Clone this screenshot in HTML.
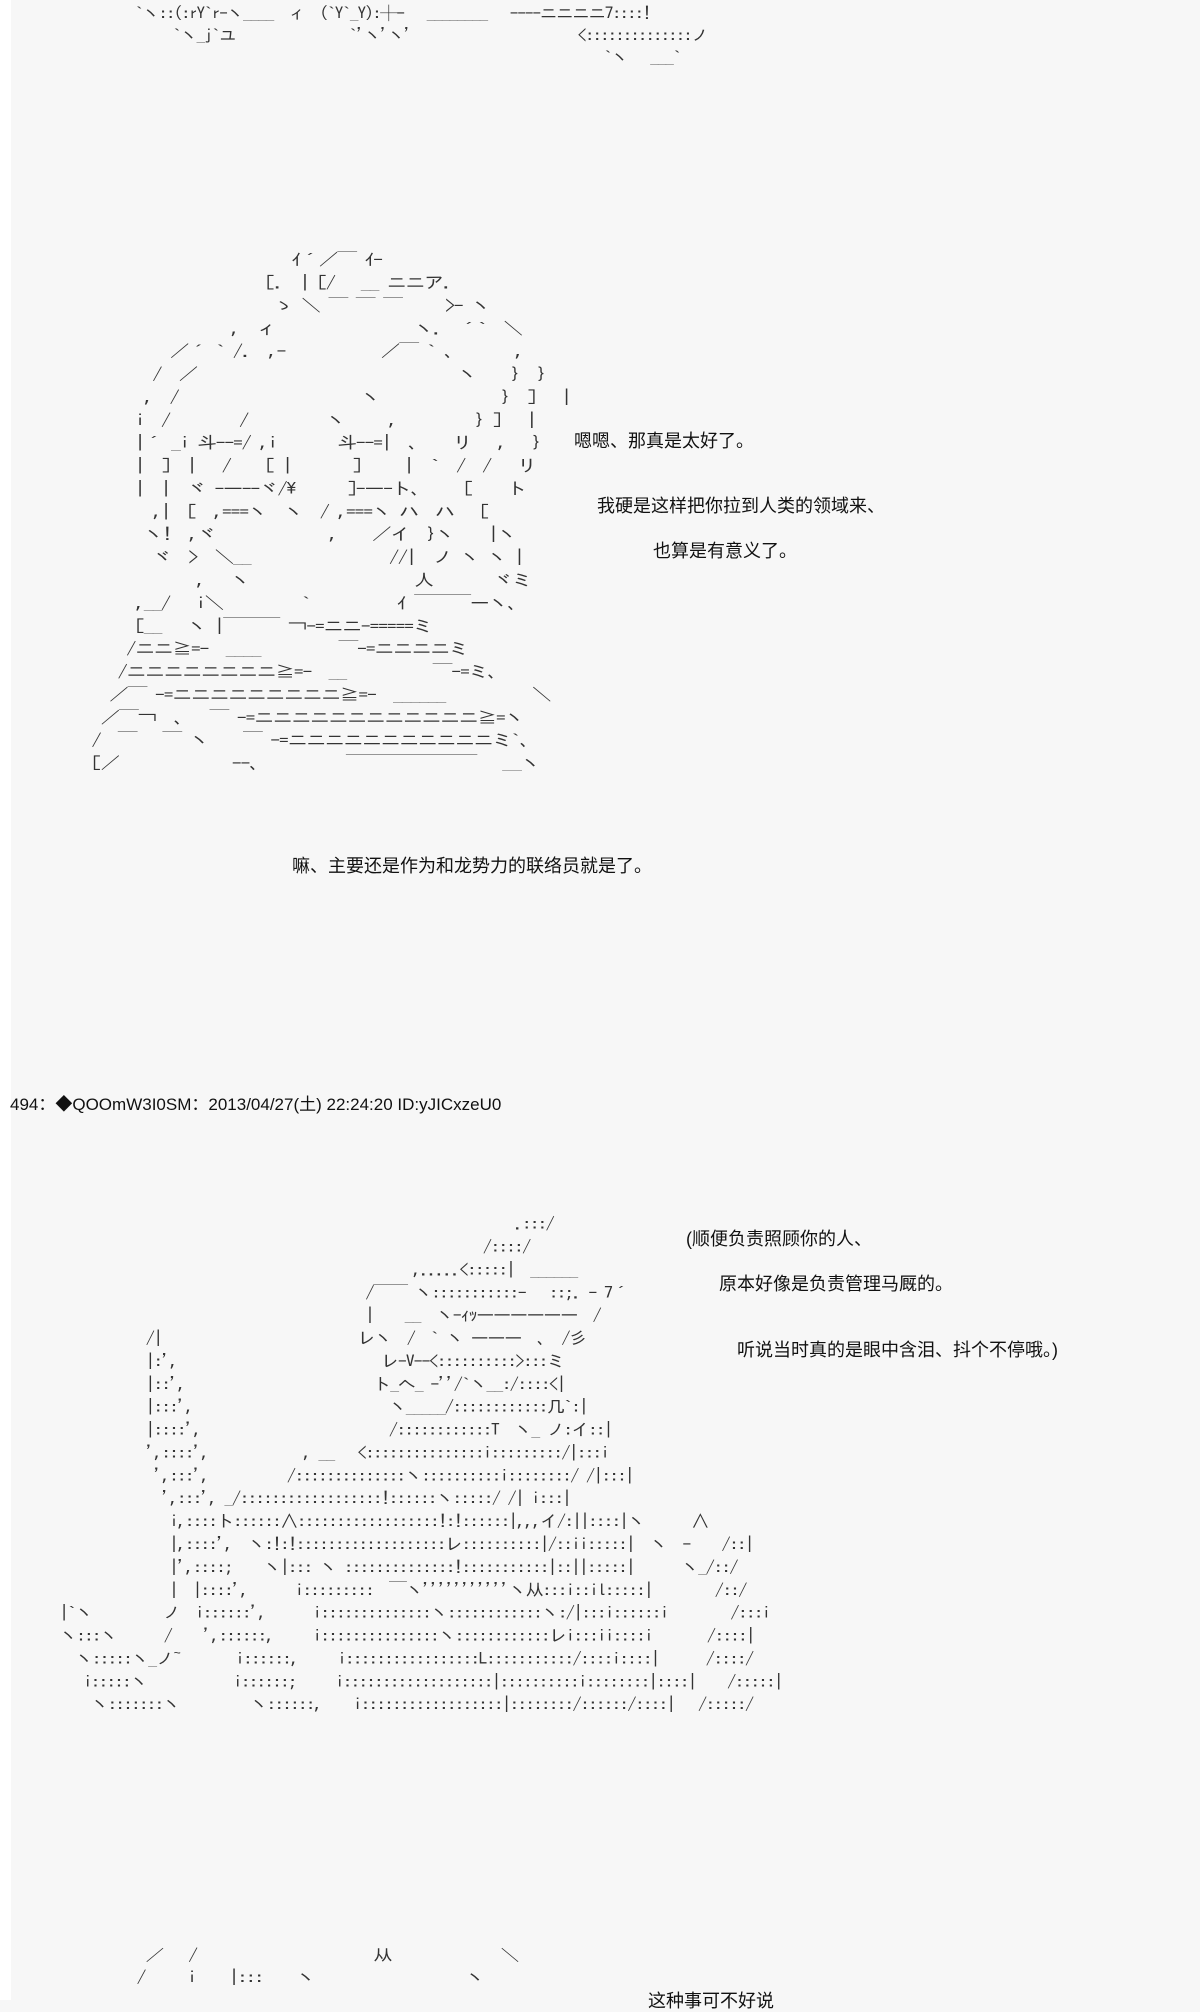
<!DOCTYPE html>
<html><head><meta charset="utf-8">
<style>
html,body{margin:0;padding:0;}
body{width:1200px;height:2000px;background:#f7f7f7;position:relative;overflow:hidden;
font-family:"Liberation Sans","Noto Sans CJK JP",sans-serif;color:#222;}
.strip{position:absolute;left:0;top:0;width:11px;height:2000px;background:#fff;}
.aa{position:absolute;white-space:pre;font-family:"IPAGothic","Noto Sans CJK JP",sans-serif;font-size:16px;line-height:22px;color:#333;letter-spacing:-1px;transform-origin:0 0;}
.t{position:absolute;white-space:pre;font-size:18px;line-height:22px;color:#111;font-family:"Liberation Sans","Noto Sans CJK SC",sans-serif;}
</style></head><body>
<div class="strip"></div>
<div class="aa" style="left:135px;top:2px;transform:scale(1.08,1);">`ヽ::(:rY`r-ヽ____  ィ  (`Y`_Y):┼-   ________   ----ニニニニ7::::!
     `ヽ_j`ユ               `'ヽ'ヽ'                      <::::::::::::::ノ
                                                              `ヽ   ___`</div>

<div class="aa" style="left:83px;top:248px;transform:scale(1.24,1.04);">                        ｲ´／￣ ｲ-
                     [.  | [/   __ ニニア.
                      ゝ ＼ ￣ ￣ ￣     >- ヽ
                 ,  ィ                ヽ.  ´`  ＼
          ／´ ` /.  ,-           ／￣ ` 、      ,
        /  ／                              ヽ    }  }
       ,  /                     ヽ              }  ]   |
      i  /        /         ヽ     ,         } ]   |
      |´ _i 斗--=/ ,i       斗--=|  、   リ   ,   }
      |  ]  |   /    [ |       ]     |  `  /  /   リ
      |  |  ヾ -―--ヾ/\      ]-―-ト、    [    ト
        ,|  [  ,===ヽ  ヽ  / ,===ヽ ハ  ハ   [
       ヽ!  ,ヾ             ,    ／イ  }ヽ    |ヽ
        ヾ  >  ＼__                //|  ノ ヽ ヽ |
             ,   ヽ                   人       ヾミ
      ,__/   i＼         `          ｲ ￣￣￣ーヽ、
      [__   ヽ |￣￣￣ ¬-=ニニ-=====ミ
     /ニニ≧=-  ____         ￣-=ニニニニミ
    /ニニニニニニニニ≧=-  __          ￣-=ミ、
   ／￣ -=ニニニニニニニニニ≧=-  ______          ＼
  ／￣¬  、  ￣ -=ニニニニニニニニニニニニ≧=ヽ
 /  ￣   ￣ ヽ    ￣ -=ニニニニニニニニニニニミ`、
 [／             --、         ￣￣￣￣￣￣￣   ＿ヽ</div>

<div class="t" style="left:574px;top:430px;">嗯嗯、那真是太好了。</div>
<div class="t" style="left:597px;top:495px;">我硬是这样把你拉到人类的领域来、</div>
<div class="t" style="left:653px;top:540px;">也算是有意义了。</div>
<div class="t" style="left:292px;top:855px;">嘛、主要还是作为和龙势力的联络员就是了。</div>

<div class="t" style="left:10px;top:1094px;font-size:17px;">494：◆QOOmW3I0SM：2013/04/27(土) 22:24:20 ID:yJICxzeU0</div>

<div class="aa" style="left:44px;top:1212px;transform:scale(1.12,1.04);">                                                            .:::/
                                                        /::::/
                                               ,.....<:::::|  ______
                                         /￣￣ ヽ:::::::::::-   ::;. - 7´
                                         |    __  ヽ-ｨｯ――――――  /
             /|                         レヽ  /  ` ヽ ―――  、 /彡
             |:',                          レ-V--<::::::::::>:::ミ
             |::',                        ト_へ_ -''/`ヽ__:/::::<|
             |:::',                         ヽ_____/::::::::::::几`:|
             |::::',                        /::::::::::::T  ヽ_ ノ:イ::|
             ',::::',            , __   <:::::::::::::::i:::::::::/|:::i
              ',:::',          /::::::::::::::ヽ::::::::::i::::::::/ /|:::|
               ',:::', _/::::::::::::::::::!::::::ヽ:::::/ /| i:::|
                i,::::ト::::::∧::::::::::::::::::!:!::::::|,,,イ/:||::::|ヽ      ∧
                |,::::',  ヽ:!:!:::::::::::::::::::レ::::::::::|/::ii:::::|  ヽ  -    /::|
                |',::::;    ヽ|::: ヽ ::::::::::::::!:::::::::::|::||:::::|      ヽ_/::/
                |  |::::',      i:::::::::  ￣ヽ'''''''''''ヽ从:::i::il:::::|        /::/
  |`ヽ         ノ  i::::::',      i::::::::::::::ヽ::::::::::::ヽ:/|:::i::::::i        /:::i
  ヽ:::ヽ      /    ',::::::,     i:::::::::::::::ヽ::::::::::::レi:::ii::::i       /::::|
    ヽ:::::ヽ_ノ~       i::::::,     i:::::::::::::::::L:::::::::::/::::i::::|      /::::/
     i:::::ヽ           i::::::;     i:::::::::::::::::::|::::::::::i::::::::|::::|    /:::::|
      ヽ:::::::ヽ         ヽ::::::,    i::::::::::::::::::|::::::::/::::::/::::|   /:::::/</div>

<div class="t" style="left:686px;top:1228px;">(顺便负责照顾你的人、</div>
<div class="t" style="left:719px;top:1273px;">原本好像是负责管理马厩的。</div>
<div class="t" style="left:737px;top:1339px;">听说当时真的是眼中含泪、抖个不停哦。)</div>

<div class="aa" style="left:120px;top:1944px;transform:scale(1.2,1);">   ／   /                     从             ＼
  /     i    |:::    ヽ                  ヽ</div>
<div class="t" style="left:648px;top:1990px;">这种事可不好说</div>
</body></html>
